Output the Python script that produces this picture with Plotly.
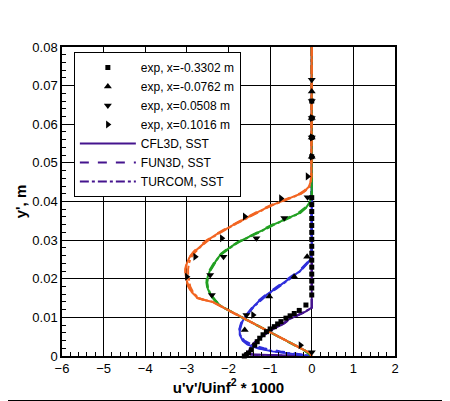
import plotly.graph_objects as go

# ---- dados ----
# estação x=-0.3302 m (roxo)
y_s1 = [0.08, 0.05, 0.02, 0.0125, 0.0115, 0.0105, 0.0095, 0.0085, 0.0075, 0.0065,
        0.0055, 0.0045, 0.0035, 0.0025, 0.0015, 0.0008, 0.0004, 0.0002, 0.0001, 0.0]
x_s1_cfl = [0, 0, 0, 0, -0.15, -0.35, -0.55, -0.66, -0.84, -1.0,
            -1.14, -1.26, -1.37, -1.45, -1.50, -1.52, -1.45, -1.1, -0.6, 0]
x_s1_fun = [0, 0, 0, 0, -0.14, -0.33, -0.53, -0.65, -0.83, -0.99,
            -1.13, -1.25, -1.36, -1.44, -1.49, -1.51, -1.40, -1.0, -0.5, 0]
x_s1_tur = [0, 0, 0, 0, -0.16, -0.36, -0.56, -0.68, -0.85, -1.01,
            -1.15, -1.27, -1.38, -1.46, -1.51, -1.53, -1.47, -1.15, -0.65, 0]

# estação x=-0.0762 m (azul)
y_s2 = [0.08, 0.04, 0.027, 0.025, 0.0235, 0.022, 0.0205, 0.019, 0.0175, 0.016, 0.0145,
        0.013, 0.0115, 0.010, 0.0085, 0.007, 0.0055, 0.004, 0.003, 0.002, 0.0012,
        0.0006, 0.0002, 0.0]
x_s2_cfl = [0, 0, 0, -0.03, -0.15, -0.28, -0.48, -0.66, -0.86, -1.07, -1.24,
            -1.38, -1.50, -1.61, -1.69, -1.73, -1.73, -1.66, -1.55, -1.30, -0.95,
            -0.55, -0.2, 0]
x_s2_fun = [0, 0, 0, -0.04, -0.17, -0.31, -0.51, -0.69, -0.89, -1.09, -1.26,
            -1.40, -1.52, -1.62, -1.70, -1.74, -1.72, -1.62, -1.45, -1.15, -0.75,
            -0.4, -0.12, 0]
x_s2_tur = [0, 0, 0, -0.02, -0.14, -0.27, -0.46, -0.64, -0.84, -1.05, -1.22,
            -1.37, -1.49, -1.60, -1.68, -1.72, -1.72, -1.65, -1.53, -1.27, -0.9,
            -0.5, -0.18, 0]

# estação x=0.0508 m (verde)
y_s3 = [0.08, 0.047, 0.0415, 0.040, 0.0385, 0.037, 0.0355, 0.034, 0.0325, 0.031,
        0.0295, 0.028, 0.0265, 0.025, 0.0235, 0.022, 0.0205, 0.019, 0.0175, 0.016,
        0.0145, 0.013, 0.011, 0.009, 0.007, 0.005, 0.003, 0.0015, 0.0]
x_s3_cfl = [0, 0, 0, -0.04, -0.13, -0.30, -0.62, -0.92, -1.19, -1.48,
            -1.77, -1.98, -2.17, -2.28, -2.37, -2.45, -2.50, -2.52, -2.50, -2.44,
            -2.33, -2.20, -1.85, -1.50, -1.15, -0.79, -0.44, -0.18, 0]
x_s3_fun = [0, 0, 0, -0.05, -0.15, -0.33, -0.65, -0.95, -1.22, -1.50,
            -1.78, -2.00, -2.18, -2.30, -2.39, -2.47, -2.52, -2.53, -2.51, -2.45,
            -2.34, -2.21, -1.86, -1.51, -1.16, -0.80, -0.45, -0.19, 0]
x_s3_tur = [0, 0, 0, -0.03, -0.12, -0.28, -0.60, -0.90, -1.17, -1.46,
            -1.75, -1.96, -2.15, -2.27, -2.36, -2.44, -2.49, -2.51, -2.49, -2.43,
            -2.32, -2.19, -1.84, -1.49, -1.14, -0.78, -0.43, -0.17, 0]

# estação x=0.1016 m (laranja)
y_s4 = [0.08, 0.049, 0.0465, 0.045, 0.0438, 0.0428, 0.042, 0.041, 0.040, 0.039,
        0.0375, 0.036, 0.0345, 0.033, 0.0315, 0.030, 0.0285, 0.027, 0.0255, 0.024,
        0.0225, 0.021, 0.0195, 0.018, 0.0165, 0.015, 0.0145, 0.014, 0.012, 0.010,
        0.008, 0.006, 0.004, 0.002, 0.0008, 0.0]
x_s4_cfl = [0, 0, -0.01, -0.03, -0.07, -0.16, -0.27, -0.50, -0.74, -0.97,
            -1.25, -1.53, -1.79, -2.04, -2.29, -2.50, -2.67, -2.82, -2.94, -3.00,
            -3.03, -3.03, -3.00, -2.96, -2.88, -2.74, -2.58, -2.38, -2.03, -1.68,
            -1.32, -0.97, -0.62, -0.26, -0.05, 0]
x_s4_fun = [0, 0, -0.01, -0.03, -0.08, -0.18, -0.30, -0.53, -0.77, -1.00,
            -1.28, -1.55, -1.81, -2.06, -2.31, -2.52, -2.69, -2.84, -2.95, -3.01,
            -3.04, -3.04, -3.01, -2.97, -2.89, -2.75, -2.59, -2.39, -2.04, -1.69,
            -1.33, -0.98, -0.63, -0.27, -0.05, 0]
x_s4_tur = [0, 0, -0.01, -0.02, -0.06, -0.15, -0.26, -0.48, -0.72, -0.95,
            -1.23, -1.51, -1.77, -2.02, -2.27, -2.48, -2.65, -2.79, -2.90, -2.95,
            -2.97, -2.97, -2.95, -2.92, -2.85, -2.72, -2.57, -2.37, -2.02, -1.67,
            -1.31, -0.96, -0.61, -0.25, -0.05, 0]

# pontos experimentais
exp1_x = [0]*19 + [-0.14, -0.30, -0.42, -0.52, -0.62, -0.74, -0.82, -0.9, -1.0, -1.09,
                   -1.17, -1.25, -1.31, -1.37, -1.45, -1.52, -1.57, -1.62]
exp1_y = [0.0158, 0.0176, 0.0194, 0.0212, 0.0230, 0.0248, 0.0266, 0.0284, 0.0302, 0.0320,
          0.0338, 0.0356, 0.0374, 0.0392, 0.0410, 0.0516, 0.0566, 0.0616, 0.066,
          0.0132, 0.0118, 0.0110, 0.0104, 0.0098, 0.0089, 0.0083, 0.0076, 0.0070, 0.0063,
          0.0055, 0.0046, 0.0037, 0.0028, 0.0016, 0.0008, 0.0003, 0.0]

exp2_x = [0, 0, 0, 0, -0.11, -0.42, -1.02, -1.61]
exp2_y = [0.0685, 0.0616, 0.0566, 0.0516, 0.0257, 0.0205, 0.0154, 0.0067]

exp3_x = [0, 0, 0, 0, -0.1, -0.66, -1.33, -2.12, -2.44, -2.40, -1.57, 0]
exp3_y = [0.0715, 0.066, 0.0616, 0.0566, 0.0411, 0.0357, 0.0305, 0.0257, 0.021, 0.0158, 0.0106, 0.001]

exp4_x = [0, 0, 0, -0.1, -0.74, -1.61, -2.16, -2.80, -3.0, -1.41, -0.27]
exp4_y = [0.0616, 0.0566, 0.0516, 0.0465, 0.0408, 0.0361, 0.0305, 0.0257, 0.0205, 0.0106, 0.0028]

CORES = ['#45148e', '#2f2fdc', '#22a022', '#f26522']

fig = go.Figure()

estacoes = [
    (y_s1, x_s1_cfl, x_s1_fun, x_s1_tur, CORES[0]),
    (y_s2, x_s2_cfl, x_s2_fun, x_s2_tur, CORES[1]),
    (y_s3, x_s3_cfl, x_s3_fun, x_s3_tur, CORES[2]),
    (y_s4, x_s4_cfl, x_s4_fun, x_s4_tur, CORES[3]),
]
for i, (ys, xc, xf, xt, cor) in enumerate(estacoes):
    leg = (i == 0)
    fig.add_trace(go.Scatter(x=xc, y=ys, mode='lines', name='CFL3D, SST',
                             line=dict(color=cor, width=2, dash='solid'),
                             showlegend=leg, legendrank=5))
    fig.add_trace(go.Scatter(x=xf, y=ys, mode='lines', name='FUN3D, SST',
                             line=dict(color=cor, width=2, dash='dash'),
                             showlegend=leg, legendrank=6))
    fig.add_trace(go.Scatter(x=xt, y=ys, mode='lines', name='TURCOM, SST',
                             line=dict(color=cor, width=2, dash='dashdot'),
                             showlegend=leg, legendrank=7))

marcadores = [
    (exp1_x, exp1_y, 'square', 5, 'exp, x=-0.3302 m'),
    (exp2_x, exp2_y, 'triangle-up', 7, 'exp, x=-0.0762 m'),
    (exp3_x, exp3_y, 'triangle-down', 7, 'exp, x=0.0508 m'),
    (exp4_x, exp4_y, 'triangle-right', 7, 'exp, x=0.1016 m'),
]
for k, (xs, ys, simb, tam, nome) in enumerate(marcadores):
    fig.add_trace(go.Scatter(x=xs, y=ys, mode='markers', name=nome,
                             marker=dict(symbol=simb, size=tam, color='black'),
                             cliponaxis=False, legendrank=k + 1))

# margens compensam o deslocamento de 8px da página
ml, mr, mt, mb = 50, 63, 39, 53
pw, ph = 450 - ml - mr, 401 - mt - mb
# moldura externa (lados direito e inferior; os outros ficam fora do svg)
fig.add_shape(type='rect', xref='paper', yref='paper',
              x0=(-8 - ml) / pw, x1=(441.5 - ml) / pw,
              y0=(401 - mb - 392.5) / ph, y1=(401 - mb + 8) / ph,
              line=dict(color='black', width=1), layer='above')

eixo = dict(showgrid=True, gridcolor='black', gridwidth=1, showline=True,
            linecolor='black', linewidth=1.5, mirror=True, ticks='inside',
            ticklen=6, tickcolor='black', zeroline=False,
            tickfont=dict(size=13, color='black'))

fig.update_layout(
    width=450, height=401,
    margin=dict(l=ml, r=mr, t=mt, b=mb),
    plot_bgcolor='white', paper_bgcolor='white',
    font=dict(family='Liberation Sans', color='black'),
    showlegend=True,
    legend=dict(x=12 / pw, y=(401 - mb - 44) / ph, xanchor='left', yanchor='top',
                bgcolor='white', bordercolor='black', borderwidth=1,
                font=dict(size=12, color='black'), traceorder='normal',
                tracegroupgap=0, itemwidth=56),
    xaxis=dict(range=[-6, 2], dtick=1,
               minor=dict(ticks='inside', ticklen=4, dtick=0.2, tickcolor='black', showgrid=False),
               title=dict(text="<b>u'v'/Uinf<sup>2</sup> * 1000</b>", font=dict(size=15), standoff=4),
               **eixo),
    yaxis=dict(range=[0, 0.08], dtick=0.01,
               minor=dict(ticks='inside', ticklen=4, dtick=0.002, tickcolor='black', showgrid=False),
               title=dict(text="<b>y', m</b>", font=dict(size=15), standoff=2),
               **eixo),
)

fig.write_html("out.html")
